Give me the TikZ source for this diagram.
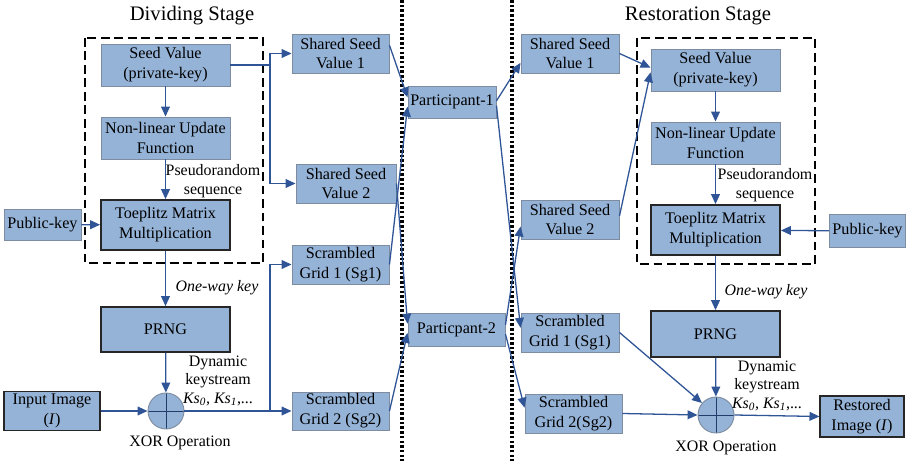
\documentclass[tikz,border=0pt]{standalone}
\usepackage{fontspec}
\setmainfont{Liberation Serif}
\usepackage{tikz,xcolor}
\usetikzlibrary{arrows.meta,calc}

\definecolor{boxfill}{RGB}{149,179,215}
\definecolor{boxedge}{RGB}{125,140,160}
\definecolor{arrowblue}{RGB}{47,85,151}

\tikzset{
  blk/.style={draw=boxedge, line width=0.8pt, fill=boxfill, align=center, inner sep=1pt,
    font=\fontsize{13.8}{17}\selectfont},
  thk/.style={blk, draw=black!85, line width=1.5pt},
  xorop/.style={circle, draw=boxedge, line width=0.8pt, fill=boxfill, minimum size=1.08cm, inner sep=0pt,
    path picture={\draw[arrowblue!70!black, line width=0.7pt]
      (path picture bounding box.north) -- (path picture bounding box.south)
      (path picture bounding box.west) -- (path picture bounding box.east);}},
  arr/.style={draw=arrowblue, line width=1.1pt, -{Triangle[length=8.5pt,width=7.5pt]}},
  lbl/.style={align=center, inner sep=0pt, font=\fontsize{13.6}{15.8}\selectfont},
  stage/.style={font=\fontsize{17.6}{20}\selectfont},
}

\begin{document}
\begin{tikzpicture}[x=0.03cm, y=-0.03cm]
\useasboundingbox (0,0) rectangle (907,461);

% stage borders and dashed key-generation blocks
\foreach \xx in {402,512} {
  \draw[line width=3.2pt, dash pattern=on 2.2pt off 1.8pt] (\xx,0) -- (\xx,461);
}
\draw[line width=1.1pt, dash pattern=on 7.5pt off 4pt] (85,38) rectangle (263,263);
\draw[line width=1.1pt, dash pattern=on 7.5pt off 4pt] (637,38) rectangle (815,264);

\node[stage] (titleL) at (192,16) {Dividing Stage};
\node[stage] (titleR) at (698,16) {Restoration Stage};

% Dividing stage
\node[blk, minimum width=3.87cm, minimum height=1.26cm] (seedL) at (165.5,65) {Seed Value\\(private-key)};
\node[blk, minimum width=3.87cm, minimum height=1.26cm] (nluL) at (165.5,138) {Non-linear Update\\Function};
\node[thk, minimum width=3.87cm, minimum height=1.5cm] (toepL) at (165.5,225) {Toeplitz Matrix\\Multiplication};
\node[blk, minimum width=2.31cm, minimum height=0.93cm] (pubL) at (42.5,224.5) {Public-key};
\node[thk, minimum width=3.87cm, minimum height=1.35cm] (prngL) at (165.5,329.5) {PRNG};
\node[thk, minimum width=2.88cm, minimum height=1.17cm] (input) at (52,411) {Input Image\\(\textit{I})};
\node[xorop] (xorL) at (166,411) {};

\node[blk, minimum width=2.91cm, minimum height=1.17cm] (ssv1L) at (340.5,53.5) {Shared Seed\\Value 1};
\node[blk, minimum width=3.0cm, minimum height=1.17cm] (ssv2L) at (346,183.5) {Shared Seed\\Value 2};
\node[blk, minimum width=2.91cm, minimum height=1.17cm] (sg1L) at (340.5,264.5) {Scrambled\\Grid 1 (Sg1)};
\node[blk, minimum width=2.91cm, minimum height=1.14cm] (sg2L) at (340.5,411) {Scrambled\\Grid 2 (Sg2)};

% participants
\node[blk, minimum width=2.64cm, minimum height=0.96cm] (part1) at (452,102) {Participant-1};
\node[blk, minimum width=2.91cm, minimum height=0.99cm] (part2) at (456.5,329.5) {Particpant-2};

% Restoration stage
\node[blk, minimum width=2.94cm, minimum height=1.17cm] (ssv1R) at (570,53.5) {Shared Seed\\Value 1};
\node[blk, minimum width=2.94cm, minimum height=1.17cm] (ssv2R) at (570,219.5) {Shared Seed\\Value 2};
\node[blk, minimum width=2.94cm, minimum height=1.17cm] (sg1R) at (570,332.5) {Scrambled\\Grid 1 (Sg1)};
\node[blk, minimum width=2.91cm, minimum height=1.17cm] (sg2R) at (573.5,413.5) {Scrambled\\Grid 2(Sg2)};

\node[blk, minimum width=3.87cm, minimum height=1.26cm] (seedR) at (715.5,70) {Seed Value\\(private-key)};
\node[blk, minimum width=3.87cm, minimum height=1.26cm] (nluR) at (715.5,143) {Non-linear Update\\Function};
\node[thk, minimum width=3.87cm, minimum height=1.5cm] (toepR) at (715.5,230) {Toeplitz Matrix\\Multiplication};
\node[blk, minimum width=2.28cm, minimum height=0.99cm] (pubR) at (867.5,231) {Public-key};
\node[thk, minimum width=3.87cm, minimum height=1.38cm] (prngR) at (715.5,334) {PRNG};
\node[xorop] (xorR) at (716,415) {};
\node[thk, minimum width=2.5cm, minimum height=1.23cm] (restored) at (862,416.5) {Restored\\Image (\textit{I})};

% edge labels
\node[lbl] (pseudoL) at (213,181) {Pseudorandom\\sequence};
\node[lbl] (owkL) at (217,288) {\textit{One-way key}};
\node[lbl] (ksL) at (218,381) {Dynamic\\keystream\\\textit{Ks\textsubscript{0}, Ks\textsubscript{1}},...};
\node[lbl] (xoptL) at (180,443) {XOR Operation};
\node[lbl] (pseudoR) at (765,185) {Pseudorandom\\sequence};
\node[lbl] (owkR) at (766,292) {\textit{One-way key}};
\node[lbl] (ksR) at (767,386) {Dynamic\\keystream\\\textit{Ks\textsubscript{0}, Ks\textsubscript{1}},...};
\node[lbl] (xoptR) at (726,448) {XOR Operation};

\coordinate (forkA) at (270,65);
\coordinate (forkB) at (270,411);

% Draw the dividing stage flow
\draw[arr] (seedL) -- (nluL);
\draw[arr] (nluL) -- (toepL);
\draw[arr] (pubL) -- (toepL);
\draw[arr] (toepL) -- (prngL);
\draw[arr] (prngL) -- (xorL);
\draw[arr] (input) -- (xorL);
\draw[arr, -] (seedL.east) -- (forkA);
\draw[arr] (forkA) |- (ssv1L.west);
\draw[arr] (forkA) |- (ssv2L.west);
\draw[arr, -] (xorL.east) -- (forkB);
\draw[arr] (forkB) -- (sg2L.west);
\draw[arr] (forkB) |- (sg1L.west);

% Draw the shares sent to the participants
\draw[arr] ([yshift=7pt]ssv1L.east) -- ([yshift=4pt]part1.west);
\draw[arr] (sg1L.east) -- ([yshift=-4pt]part1.west);
\draw[arr] (ssv2L.east) -- ([yshift=5pt]part2.west);
\draw[arr] (sg2L.east) -- ([yshift=-3pt]part2.west);
\draw[arr] ([yshift=1pt]part1.east) -- ([yshift=-8pt]ssv1R.west);
\draw[arr] ([yshift=-3pt]part1.east) -- ([yshift=4pt]sg1R.west);
\draw[arr] ([yshift=4pt]part2.east) -- ([yshift=-6pt]ssv2R.west);
\draw[arr] ([yshift=-4pt]part2.east) -- ([yshift=5pt]sg2R.west);

% Draw the restoration stage flow
\draw[arr] (ssv1R.east) -- ([yshift=2pt]seedR.west);
\draw[arr] ([yshift=3pt]ssv2R.east) -- ([yshift=-2pt]seedR.west);
\draw[arr] (seedR) -- (nluR);
\draw[arr] (nluR) -- (toepR);
\draw[arr] (pubR) -- (toepR);
\draw[arr] (toepR) -- (prngR);
\draw[arr] (prngR) -- (xorR);
\draw[arr] (sg1R.east) -- (xorR);
\draw[arr] (sg2R.east) -- (xorR.west);
\draw[arr] (xorR.east) -- (restored.west);
\end{tikzpicture}
\end{document}
